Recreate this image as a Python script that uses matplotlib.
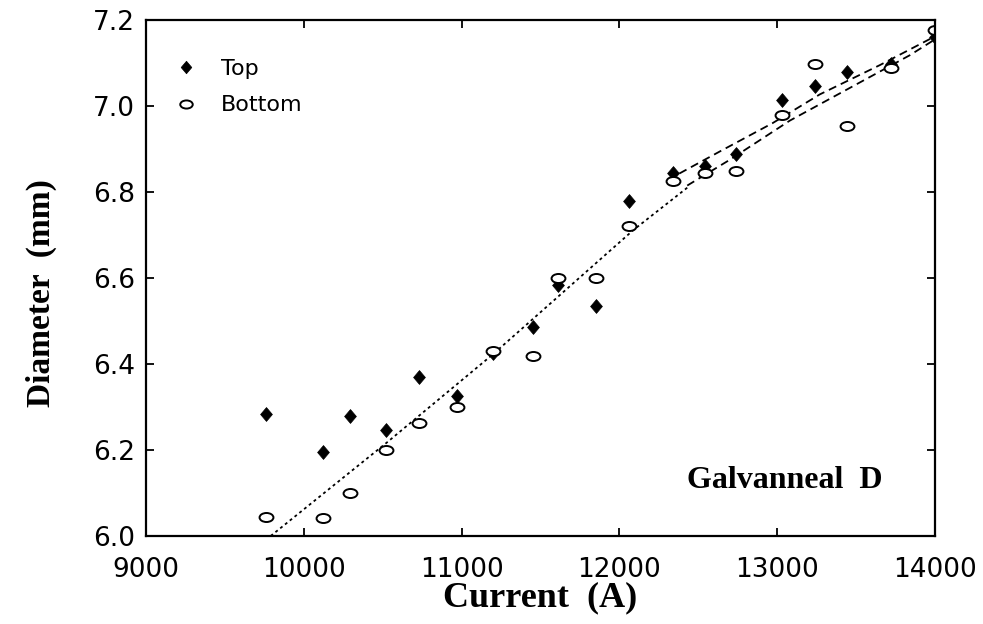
import matplotlib
matplotlib.use('Agg')
import matplotlib.pyplot as plt
from matplotlib.path import Path
import numpy as np


# weld current (A) and nugget diameter (mm)
current = [9760, 10120, 10290, 10520, 10730, 10970, 11200, 11450, 11610, 11850,
           12060, 12340, 12540, 12740, 13030, 13240, 13440, 13720, 14000]
dia_top = [6.283, 6.196, 6.278, 6.246, 6.369, 6.326, 6.426, 6.486, 6.583, 6.535,
           6.780, 6.844, 6.860, 6.889, 7.013, 7.047, 7.078, 7.098, 7.160]
dia_bottom = [6.045, 6.043, 6.100, 6.201, 6.262, 6.301, 6.430, 6.419, 6.599, 6.599,
              6.720, 6.825, 6.844, 6.850, 6.979, 7.098, 6.954, 7.088, 7.176]

# fitted trend lines
fit_low_x = [9790, 10525, 11200, 12090, 12430]
fit_low_y = [6.000, 6.217, 6.423, 6.712, 6.810]
fit_top_x = [12380, 12640, 12970, 13270, 13650, 14000]
fit_top_y = [6.843, 6.895, 6.960, 7.027, 7.095, 7.162]
fit_bot_x = [12430, 12700, 13080, 13500, 13840, 14000]
fit_bot_y = [6.815, 6.875, 6.966, 7.050, 7.118, 7.155]

x_ticks = [9000, 10000, 11000, 12000, 13000, 14000]
y_ticks = [6.0, 6.2, 6.4, 6.6, 6.8, 7.0, 7.2]


# marker shapes: tall diamond, flattened circle
diamond = Path([(0, 1), (0.85, 0), (0, -1), (-0.85, 0), (0, 1)],
               [Path.MOVETO, Path.LINETO, Path.LINETO, Path.LINETO, Path.CLOSEPOLY])
circ = Path.unit_circle()
oval = Path(circ.vertices * np.array([1.0, 0.65]), circ.codes)

fig = plt.figure(figsize=(9.83, 6.24), dpi=100)
ax = fig.add_axes([146/983, 1-536/624, (935-146)/983, (536-20)/624])

ax.plot(fit_low_x, fit_low_y, color='black', lw=1.3, linestyle=(0, (1.6, 1.8)))
ax.plot(fit_top_x, fit_top_y, color='black', lw=1.3, linestyle=(0, (4.5, 2.8)))
ax.plot(fit_bot_x, fit_bot_y, color='black', lw=1.3, linestyle=(0, (4.5, 2.8)))

ax.plot(current, dia_top, linestyle='none', marker=diamond, ms=10,
        mfc='black', mec='black', mew=0.5, label='Top')
ax.plot(current, dia_bottom, linestyle='none', marker=oval, ms=10,
        mfc='white', mec='black', mew=1.4, label='Bottom')

ax.set_xlim(9000, 14000)
ax.set_ylim(6.0, 7.2)
ax.set_xticks(x_ticks)
ax.set_yticks(y_ticks)
ax.set_yticklabels(['%.1f' % v for v in y_ticks])

for sp in ax.spines.values():
    sp.set_linewidth(1.6)

ax.tick_params(direction='in', length=6, width=1.3, top=True, right=True,
               labelsize=19)
ax.tick_params(axis='x', pad=15)
ax.tick_params(axis='y', pad=8)
for lab in ax.get_xticklabels() + ax.get_yticklabels():
    lab.set_family('DejaVu Sans')

ax.set_xlabel('Current  (A)', family='Liberation Serif', fontweight='bold',
              fontsize=26, labelpad=-1)
ax.set_ylabel('Diameter  (mm)', family='Liberation Serif', fontweight='bold',
              fontsize=24)
ax.yaxis.set_label_coords(-0.113, 0.47)

ax.text(0.934, 0.108, 'Galvanneal  D', transform=ax.transAxes, ha='right',
        va='center', family='Liberation Serif', fontweight='bold', fontsize=23)

leg = ax.legend(loc='upper left', bbox_to_anchor=(0.036, 0.925), frameon=False,
                prop={'family': 'DejaVu Sans', 'size': 16}, handlelength=1.0,
                handletextpad=1.1, labelspacing=0.75, borderpad=0, borderaxespad=0,
                markerscale=0.9)

fig.savefig('out.png', dpi=100)
